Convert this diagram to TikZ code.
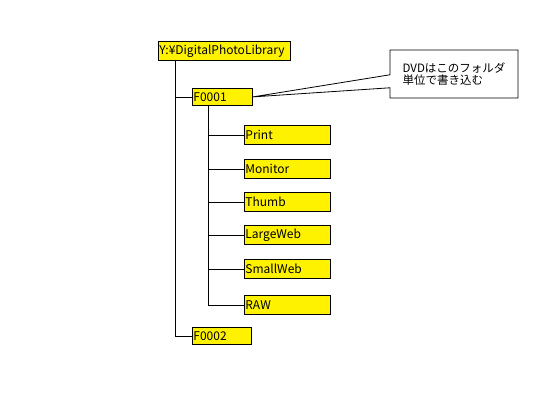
\documentclass[tikz,border=0pt]{standalone}
\usepackage{fontspec}
\setmainfont{Noto Sans CJK JP}
\usetikzlibrary{shapes.callouts}

\tikzset{
  folder/.style={draw, fill=yellow, anchor=north west, align=left,
    inner xsep=1pt, inner ysep=0pt, font=\fontsize{12}{13}\selectfont},
  sub/.style={folder, text width=84pt, minimum height=19pt},
  note/.style={draw, fill=white, rectangle callout, align=left,
    minimum width=128pt, minimum height=48pt,
    font=\fontsize{11.5}{12.5}\selectfont},
}

\begin{document}
\begin{tikzpicture}[x=1pt,y=-1pt,line width=0.8pt]
  \useasboundingbox (0,0) rectangle (548,400);

  % top folder and the two volumes
  \node[folder,text width=130pt,minimum height=19pt] (root) at (158,41) {Y:¥DigitalPhotoLibrary};
  \node[folder,text width=58pt,minimum height=17pt] (f1) at (192,88) {F0001};
  \node[folder,text width=57pt,minimum height=17pt] (f2) at (192,327) {F0002};

  % subfolders of F0001
  \node[sub] (print) at (244,125) {Print};
  \node[sub] (monitor) at (244,159) {Monitor};
  \node[sub] (thumb) at (244,192) {Thumb};
  \node[sub] (large) at (244,225) {LargeWeb};
  \node[sub] (small) at (244,259) {SmallWeb};
  \node[sub] (raw) at (244,295) {RAW};

  \draw ([xshift=17pt]root.south west) |- (f1.west);
  \draw ([xshift=17pt]root.south west) |- (f2.west);
  \draw ([xshift=16pt]f1.south west) |- (print.west);
  \draw ([xshift=16pt]f1.south west) |- (monitor.west);
  \draw ([xshift=16pt]f1.south west) |- (thumb.west);
  \draw ([xshift=16pt]f1.south west) |- (large.west);
  \draw ([xshift=16pt]f1.south west) |- (small.west);
  \draw ([xshift=16pt]f1.south west) |- (raw.west);

  % callout
  \node[note,callout absolute pointer={(f1.east)},callout pointer width=13pt] (dvd) at (454,74)
    {DVDはこのフォルダ\\単位で書き込む};
\end{tikzpicture}
\end{document}
